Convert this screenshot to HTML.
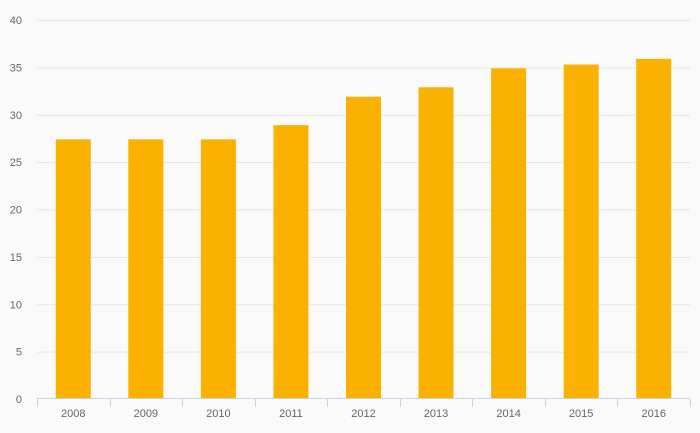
<!DOCTYPE html>
<html><head><meta charset="utf-8"><style>
body{margin:0;background:#fafafa;}
svg{display:block;font-family:"Liberation Sans",sans-serif;}
</style></head><body>
<svg id="chart" width="700" height="433"></svg>
<script>
const categories=["2008","2009","2010","2011","2012","2013","2014","2015","2016"];
const values=[27.4,27.4,27.4,28.9,31.9,32.9,34.9,35.3,35.9];
const yTicks=[0,5,10,15,20,25,30,35,40];
const svg=document.getElementById('chart');
const NS='http://www.w3.org/2000/svg';
const L=37,R=690,T=20,B=399,yMax=40;
const y=v=>B-(v/yMax)*(B-T);
const bw=(R-L)/categories.length;
const x=i=>L+bw*i;
function mk(t,a,p){const e=document.createElementNS(NS,t);for(const k in a)e.setAttribute(k,a[k]);(p||svg).appendChild(e);return e;}
yTicks.forEach(v=>{
  if(v>0){const g=mk('line',{x1:L,x2:R,y1:y(v)+0.5,y2:y(v)+0.5,stroke:'#e6e6e6','stroke-width':1});
  
  }
  const t=mk('text',{x:22,y:y(v)+4,'text-anchor':'end','font-size':11,fill:'#666'});
  t.textContent=v;
  
  
});
categories.forEach((c,i)=>{
  const r=mk('rect',{x:x(i)+bw/2-17.5,y:y(values[i]),width:35,height:B-y(values[i]),fill:'#fbb100'});
  
  
  const t=mk('text',{x:x(i)+bw/2,y:417,'text-anchor':'middle','font-size':11,fill:'#666'});
  t.textContent=c;
  
  
});
for(let i=0;i<=categories.length;i++){
  const tk=mk('line',{x1:Math.round(x(i))+0.5,x2:Math.round(x(i))+0.5,y1:B,y2:B+8,stroke:'#c9d3e8'});
  
  
}
const ax=mk('line',{x1:L,x2:R,y1:B-0.5,y2:B-0.5,stroke:'#c9d3e8'});


</script>
</body></html>
